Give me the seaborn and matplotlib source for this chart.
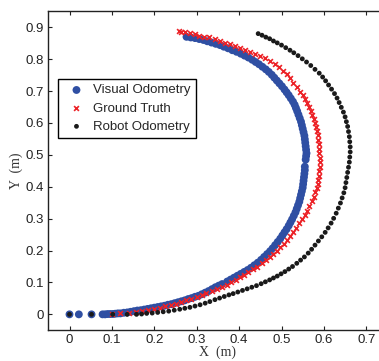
import matplotlib
matplotlib.use("Agg")
import matplotlib.pyplot as plt
import seaborn as sns
import pandas as pd

# ---- data ----
vo_x = [0.000, 0.022, 0.052, 0.078, 0.084, 0.090, 0.096, 0.102, 0.108, 0.114, 0.120, 0.128, 0.136, 0.144,
        0.152, 0.160, 0.168, 0.176, 0.184, 0.192, 0.200, 0.208, 0.216, 0.224, 0.232, 0.240, 0.248, 0.256,
        0.264, 0.272, 0.280, 0.288, 0.296, 0.304, 0.312, 0.320, 0.328, 0.336, 0.344, 0.352, 0.360, 0.372,
        0.380, 0.388, 0.396, 0.404, 0.412, 0.420, 0.428, 0.436, 0.444, 0.452, 0.459, 0.466, 0.473, 0.479,
        0.485, 0.491, 0.497, 0.502, 0.507, 0.512, 0.517, 0.521, 0.525, 0.529, 0.533, 0.536, 0.539, 0.542,
        0.544, 0.546, 0.548, 0.550, 0.551, 0.552, 0.553, 0.554, 0.555, 0.555, 0.557, 0.558, 0.559, 0.558,
        0.557, 0.556, 0.555, 0.554, 0.552, 0.550, 0.548, 0.546, 0.543, 0.540, 0.537, 0.534, 0.531, 0.527,
        0.522, 0.517, 0.512, 0.507, 0.501, 0.495, 0.489, 0.483, 0.477, 0.470, 0.463, 0.455, 0.447, 0.439,
        0.431, 0.422, 0.413, 0.404, 0.394, 0.384, 0.374, 0.364, 0.355, 0.345, 0.335, 0.325, 0.316, 0.306,
        0.296, 0.286, 0.276]
vo_y = [0.000, 0.000, 0.000, 0.000, 0.000, 0.001, 0.001, 0.001, 0.002, 0.003, 0.003, 0.005, 0.006, 0.008,
        0.010, 0.012, 0.013, 0.015, 0.017, 0.019, 0.021, 0.023, 0.025, 0.027, 0.030, 0.032, 0.035, 0.038,
        0.041, 0.044, 0.048, 0.051, 0.055, 0.058, 0.063, 0.068, 0.073, 0.079, 0.085, 0.090, 0.095, 0.103,
        0.109, 0.115, 0.121, 0.127, 0.133, 0.139, 0.146, 0.154, 0.162, 0.171, 0.180, 0.189, 0.198, 0.207,
        0.217, 0.227, 0.237, 0.247, 0.257, 0.267, 0.278, 0.288, 0.298, 0.309, 0.320, 0.331, 0.342, 0.353,
        0.364, 0.375, 0.386, 0.397, 0.408, 0.419, 0.430, 0.441, 0.452, 0.463, 0.485, 0.496, 0.505, 0.516,
        0.527, 0.538, 0.549, 0.560, 0.571, 0.582, 0.593, 0.604, 0.615, 0.626, 0.637, 0.647, 0.657, 0.667,
        0.677, 0.687, 0.696, 0.705, 0.715, 0.724, 0.733, 0.742, 0.751, 0.760, 0.768, 0.776, 0.784, 0.791,
        0.798, 0.805, 0.811, 0.817, 0.823, 0.828, 0.834, 0.839, 0.844, 0.848, 0.852, 0.856, 0.860, 0.863,
        0.866, 0.868, 0.870]

gt_x = [0.100, 0.120, 0.140, 0.158, 0.172, 0.186, 0.200, 0.213, 0.226, 0.239, 0.251, 0.262, 0.274, 0.287,
        0.300, 0.312, 0.323, 0.335, 0.347, 0.359, 0.371, 0.382, 0.392, 0.402, 0.412, 0.422, 0.432, 0.443,
        0.453, 0.463, 0.472, 0.480, 0.489, 0.497, 0.505, 0.513, 0.520, 0.528, 0.535, 0.542, 0.549, 0.555,
        0.561, 0.566, 0.571, 0.576, 0.580, 0.583, 0.586, 0.587, 0.588, 0.589, 0.590, 0.590, 0.590, 0.589,
        0.589, 0.588, 0.587, 0.586, 0.584, 0.581, 0.579, 0.576, 0.573, 0.570, 0.566, 0.561, 0.556, 0.550,
        0.544, 0.536, 0.528, 0.520, 0.512, 0.503, 0.494, 0.484, 0.473, 0.462, 0.450, 0.438, 0.426, 0.414,
        0.402, 0.390, 0.378, 0.366, 0.354, 0.342, 0.330, 0.318, 0.306, 0.295, 0.284, 0.272, 0.263, 0.258]
gt_y = [0.001, 0.003, 0.005, 0.008, 0.011, 0.014, 0.017, 0.021, 0.025, 0.029, 0.034, 0.039, 0.044, 0.049,
        0.055, 0.061, 0.067, 0.073, 0.079, 0.085, 0.092, 0.100, 0.108, 0.116, 0.124, 0.132, 0.141, 0.150,
        0.160, 0.170, 0.180, 0.190, 0.200, 0.211, 0.222, 0.234, 0.246, 0.259, 0.272, 0.285, 0.298, 0.311,
        0.325, 0.339, 0.354, 0.368, 0.382, 0.395, 0.408, 0.421, 0.435, 0.449, 0.463, 0.477, 0.491, 0.505,
        0.519, 0.533, 0.547, 0.561, 0.574, 0.587, 0.600, 0.613, 0.626, 0.639, 0.651, 0.663, 0.675, 0.687,
        0.698, 0.712, 0.726, 0.740, 0.752, 0.763, 0.774, 0.785, 0.795, 0.803, 0.810, 0.816, 0.822, 0.828,
        0.834, 0.840, 0.846, 0.852, 0.858, 0.864, 0.868, 0.871, 0.874, 0.878, 0.881, 0.884, 0.886, 0.888]

ro_x = [0.000, 0.052, 0.102, 0.136, 0.158, 0.170, 0.182, 0.195, 0.208, 0.221, 0.234, 0.247, 0.260, 0.272,
        0.284, 0.296, 0.308, 0.320, 0.331, 0.343, 0.354, 0.365, 0.376, 0.386, 0.397, 0.408, 0.419, 0.430,
        0.441, 0.452, 0.462, 0.472, 0.481, 0.490, 0.499, 0.508, 0.517, 0.526, 0.536, 0.545, 0.554, 0.563,
        0.571, 0.579, 0.587, 0.595, 0.603, 0.610, 0.617, 0.623, 0.629, 0.634, 0.639, 0.643, 0.647, 0.650,
        0.652, 0.654, 0.656, 0.658, 0.660, 0.661, 0.662, 0.662, 0.661, 0.660, 0.658, 0.656, 0.653, 0.650,
        0.646, 0.641, 0.636, 0.631, 0.625, 0.618, 0.611, 0.604, 0.597, 0.589, 0.579, 0.569, 0.559, 0.549,
        0.539, 0.529, 0.520, 0.510, 0.500, 0.490, 0.481, 0.472, 0.463, 0.454, 0.445]
ro_y = [0.000, 0.000, 0.000, 0.000, 0.000, 0.001, 0.003, 0.004, 0.006, 0.008, 0.010, 0.013, 0.016, 0.019,
        0.022, 0.026, 0.030, 0.035, 0.040, 0.046, 0.051, 0.056, 0.061, 0.065, 0.070, 0.075, 0.080, 0.085,
        0.090, 0.096, 0.102, 0.108, 0.114, 0.120, 0.127, 0.134, 0.142, 0.150, 0.160, 0.170, 0.180, 0.192,
        0.204, 0.217, 0.230, 0.243, 0.257, 0.271, 0.286, 0.301, 0.317, 0.333, 0.349, 0.365, 0.381, 0.397,
        0.413, 0.429, 0.445, 0.461, 0.477, 0.493, 0.509, 0.525, 0.541, 0.557, 0.573, 0.589, 0.604, 0.619,
        0.634, 0.649, 0.664, 0.678, 0.692, 0.706, 0.719, 0.732, 0.744, 0.756, 0.768, 0.780, 0.791, 0.801,
        0.811, 0.820, 0.828, 0.836, 0.844, 0.851, 0.857, 0.864, 0.869, 0.875, 0.880]

series_names = ["Visual Odometry", "Ground Truth", "Robot Odometry"]
x_ticks = [0, 0.1, 0.2, 0.3, 0.4, 0.5, 0.6, 0.7]
x_tick_labels = ["0", "0.1", "0.2", "0.3", "0.4", "0.5", "0.6", "0.7"]
y_ticks = [0, 0.1, 0.2, 0.3, 0.4, 0.5, 0.6, 0.7, 0.8, 0.9]
y_tick_labels = ["0", "0.1", "0.2", "0.3", "0.4", "0.5", "0.6", "0.7", "0.8", "0.9"]

vo = pd.DataFrame({"x": vo_x, "y": vo_y})
gt = pd.DataFrame({"x": gt_x, "y": gt_y})
ro = pd.DataFrame({"x": ro_x, "y": ro_y})

sns.set_style("ticks")
plt.rcParams["font.family"] = ["Liberation Sans", "DejaVu Sans"]

W, H = 379, 361
fig = plt.figure(figsize=(W / 100, H / 100), dpi=100)
ax = fig.add_axes([48.3 / W, (H - 330.3) / H, 339.2 / W, 319.0 / H])

sns.scatterplot(data=vo, x="x", y="y", ax=ax, color="#2f4fa3", s=32, edgecolor="none",
                label=series_names[0], zorder=2)
sns.scatterplot(data=gt, x="x", y="y", ax=ax, color="#ec2227", marker="x", s=12, linewidth=1.2,
                label=series_names[1], zorder=3)
sns.scatterplot(data=ro, x="x", y="y", ax=ax, color="#1a1a1a", s=12, edgecolor="none",
                label=series_names[2], zorder=4)

ax.set_xlim(-0.05, 0.75)
ax.set_ylim(-0.05, 0.95)
ax.set_xticks(x_ticks)
ax.set_xticklabels(x_tick_labels)
ax.set_yticks(y_ticks)
ax.set_yticklabels(y_tick_labels)
ax.tick_params(direction="in", top=True, right=True, length=3, width=0.8,
               labelsize=9.5, colors="#222222", pad=3)
for sp in ax.spines.values():
    sp.set_visible(True)
    sp.set_linewidth(1.0)
    sp.set_color("#222222")

ax.set_xlabel("X  (m)", family=["Liberation Serif", "DejaVu Serif"], fontsize=10, color="#333333", labelpad=-1)
ax.set_ylabel("Y  (m)", family=["Liberation Serif", "DejaVu Serif"], fontsize=10, color="#333333", labelpad=2)

leg = ax.legend(loc="upper left", bbox_to_anchor=(0.0286, 0.788), borderaxespad=0,
                frameon=True, fancybox=False, edgecolor="black", framealpha=1,
                fontsize=9.5, handlelength=2.0, handletextpad=0.25, labelspacing=0.45,
                borderpad=0.4)
leg.get_frame().set_linewidth(1.0)

fig.savefig("out.png", dpi=100)
